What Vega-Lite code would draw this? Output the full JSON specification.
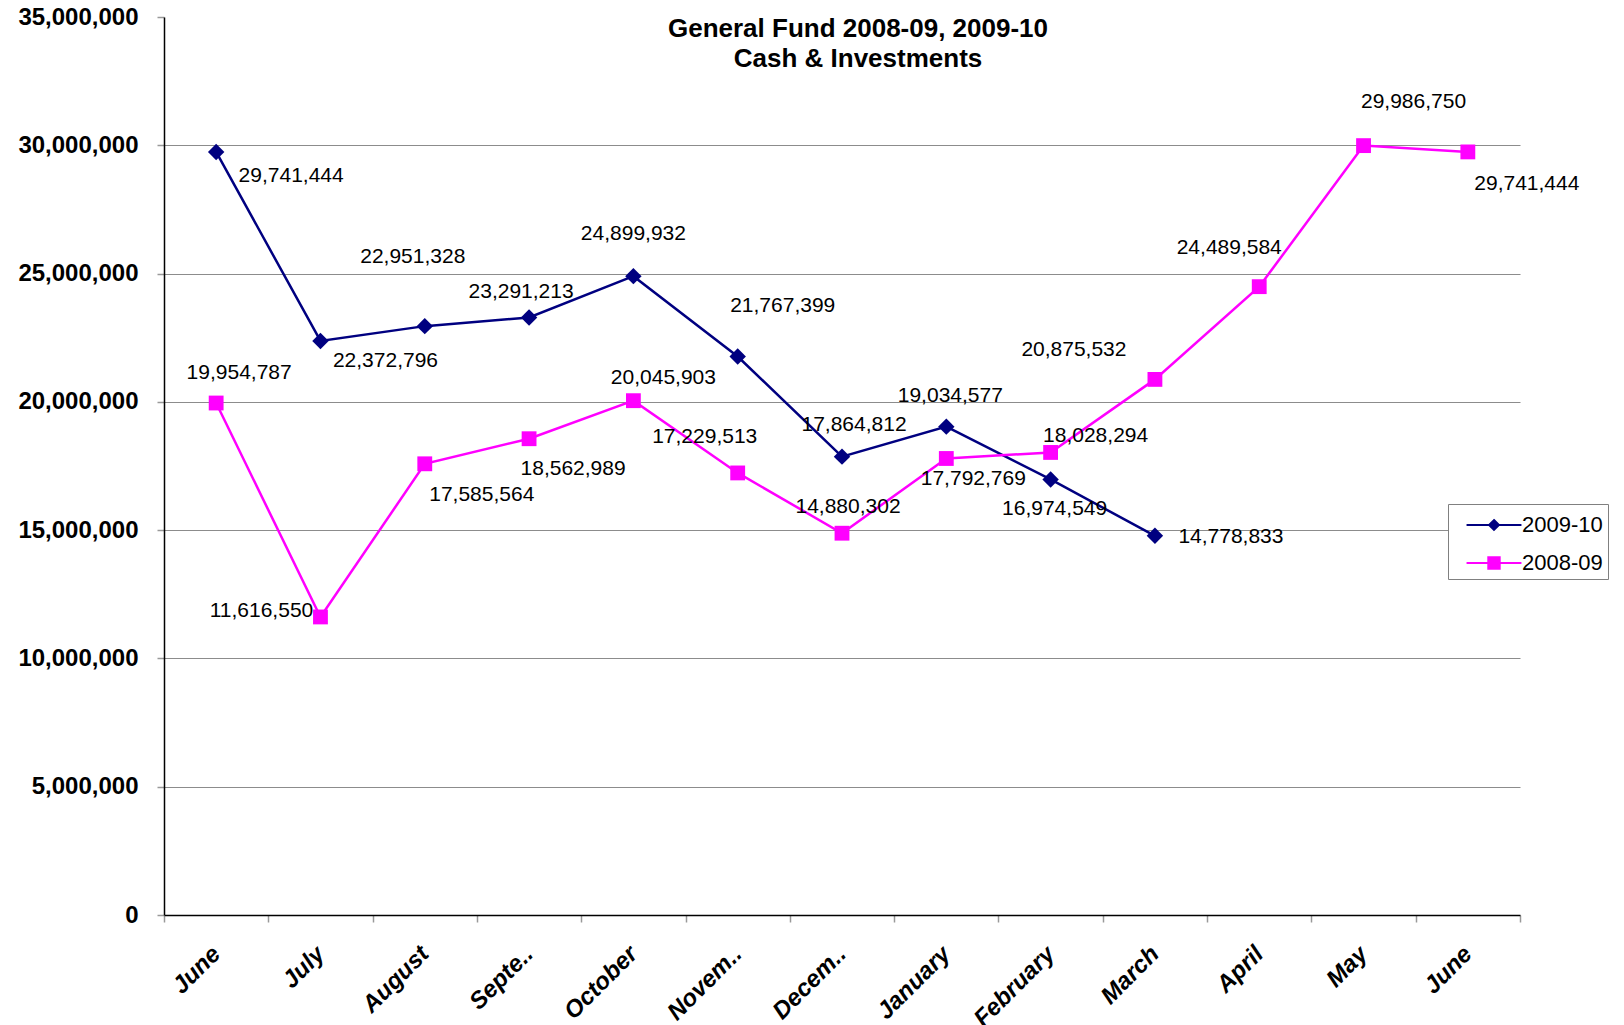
{
  "$schema": "https://vega.github.io/schema/vega-lite/v6.json",
  "autosize": "none",
  "width": 1356,
  "height": 898,
  "padding": {"left": 164, "top": 17, "right": 104, "bottom": 110},
  "background": "white",
  "title": {
    "text": ["General Fund 2008-09, 2009-10", "Cash & Investments"],
    "font": "Liberation Sans",
    "fontSize": 26,
    "fontWeight": "bold",
    "color": "black",
    "lineHeight": 30,
    "anchor": "middle",
    "frame": "group",
    "baseline": "top",
    "dx": 16,
    "dy": 17,
    "offset": -50
  },
  "config": {
    "view": {"stroke": null},
    "font": "Liberation Sans",
    "text": {"font": "Liberation Sans", "fontSize": 21, "color": "black"}
  },
  "data": {
    "values": [
      {"series": "2009-10", "month": "June (prior)", "value": 29741444},
      {"series": "2009-10", "month": "July", "value": 22372796},
      {"series": "2009-10", "month": "August", "value": 22951328},
      {"series": "2009-10", "month": "September", "value": 23291213},
      {"series": "2009-10", "month": "October", "value": 24899932},
      {"series": "2009-10", "month": "November", "value": 21767399},
      {"series": "2009-10", "month": "December", "value": 17864812},
      {"series": "2009-10", "month": "January", "value": 19034577},
      {"series": "2009-10", "month": "February", "value": 16974549},
      {"series": "2009-10", "month": "March", "value": 14778833},
      {"series": "2008-09", "month": "June (prior)", "value": 19954787},
      {"series": "2008-09", "month": "July", "value": 11616550},
      {"series": "2008-09", "month": "August", "value": 17585564},
      {"series": "2008-09", "month": "September", "value": 18562989},
      {"series": "2008-09", "month": "October", "value": 20045903},
      {"series": "2008-09", "month": "November", "value": 17229513},
      {"series": "2008-09", "month": "December", "value": 14880302},
      {"series": "2008-09", "month": "January", "value": 17792769},
      {"series": "2008-09", "month": "February", "value": 18028294},
      {"series": "2008-09", "month": "March", "value": 20875532},
      {"series": "2008-09", "month": "April", "value": 24489584},
      {"series": "2008-09", "month": "May", "value": 29986750},
      {"series": "2008-09", "month": "June", "value": 29741444}
    ]
  },
  "encoding": {
    "x": {
      "field": "month",
      "type": "nominal",
      "sort": ["June (prior)", "July", "August", "September", "October", "November", "December", "January", "February", "March", "April", "May", "June"],
      "scale": {"type": "band", "paddingInner": 0, "paddingOuter": 0},
      "axis": {
        "title": null,
        "labelAngle": -45,
        "labelAlign": "right",
        "labelBaseline": "middle",
        "labelExpr": "!isString(datum.value) ? '' : datum.value=='September' ? 'Septe..' : datum.value=='November' ? 'Novem..' : datum.value=='December' ? 'Decem..' : split(datum.value,' ')[0]",
        "labelFont": "Liberation Sans",
        "labelFontSize": 24,
        "labelFontWeight": "bold",
        "labelFontStyle": "italic",
        "labelColor": "black",
        "labelPadding": 28,
        "tickBand": "extent",
        "tickColor": "#999999",
        "tickSize": 7,
        "tickWidth": 1.5,
        "domainColor": "black",
        "domainWidth": 1.5,
        "grid": false
      }
    },
    "y": {
      "field": "value",
      "type": "quantitative",
      "scale": {"domain": [0, 35000000], "nice": false},
      "axis": {
        "title": null,
        "values": [0, 5000000, 10000000, 15000000, 20000000, 25000000, 30000000, 35000000],
        "format": ",d",
        "labelFont": "Liberation Sans",
        "labelFontSize": 24,
        "labelFontWeight": "bold",
        "labelColor": "black",
        "labelPadding": 19,
        "tickColor": "#999999",
        "tickSize": 7,
        "tickWidth": 1.5,
        "domainColor": "black",
        "domainWidth": 1.5,
        "grid": true,
        "gridColor": "#8c8c8c",
        "gridWidth": 1.2,
        "gridOpacity": {"condition": {"test": "datum.value >= 35000000 || datum.value == 0", "value": 0}, "value": 1}
      }
    }
  },
  "layer": [
    {
      "mark": {"type": "line", "strokeWidth": 2.5},
      "encoding": {
        "color": {
          "field": "series",
          "type": "nominal",
          "scale": {"domain": ["2009-10", "2008-09"], "range": ["#000080", "#FF00FF"]},
          "legend": {
            "title": null,
            "orient": "none",
            "legendX": 1284,
            "legendY": 487,
            "fillColor": "white",
            "strokeColor": "#808080",
            "padding": 5,
            "labelFont": "Liberation Sans",
            "labelFontSize": 22,
            "labelColor": "black",
            "labelOffset": 12,
            "symbolSize": 900,
            "symbolOffset": 25,
            "symbolStrokeWidth": 2,
            "rowPadding": 11,
            "encoding": {
              "symbols": {
                "shape": {"condition": {"test": "datum.value == '2009-10'", "value": "M-1.83,0H1.83M0,-0.33L0.33,0L0,0.33L-0.33,0Z"}, "value": "M-1.83,0H1.83M-0.38,-0.38H0.38V0.38H-0.38Z"},
                "fill": {"condition": {"test": "datum.value == '2009-10'", "value": "#000080"}, "value": "#FF00FF"},
                "stroke": {"condition": {"test": "datum.value == '2009-10'", "value": "#000080"}, "value": "#FF00FF"},
                "strokeWidth": {"value": 2},
                "opacity": {"value": 1},
                "fillOpacity": {"value": 1}
              }
            }
          }
        }
      }
    },
    {
      "transform": [{"filter": "datum.series == '2009-10'"}],
      "mark": {"type": "point", "shape": "diamond", "filled": true, "size": 270, "opacity": 1},
      "encoding": {"color": {"field": "series", "type": "nominal"}}
    },
    {
      "transform": [{"filter": "datum.series == '2008-09'"}],
      "mark": {"type": "point", "shape": "square", "filled": true, "size": 220, "opacity": 1},
      "encoding": {"color": {"field": "series", "type": "nominal"}}
    },
    {"transform": [{"filter": "datum.series=='2009-10' && datum.month=='June (prior)'"}], "mark": {"type": "text", "dx": 75, "dy": 24}, "encoding": {"text": {"field": "value", "format": ","}}},
    {"transform": [{"filter": "datum.series=='2009-10' && datum.month=='July'"}], "mark": {"type": "text", "dx": 65, "dy": 20}, "encoding": {"text": {"field": "value", "format": ","}}},
    {"transform": [{"filter": "datum.series=='2009-10' && datum.month=='August'"}], "mark": {"type": "text", "dx": -12, "dy": -69}, "encoding": {"text": {"field": "value", "format": ","}}},
    {"transform": [{"filter": "datum.series=='2009-10' && datum.month=='September'"}], "mark": {"type": "text", "dx": -8, "dy": -25}, "encoding": {"text": {"field": "value", "format": ","}}},
    {"transform": [{"filter": "datum.series=='2009-10' && datum.month=='October'"}], "mark": {"type": "text", "dx": 0, "dy": -42}, "encoding": {"text": {"field": "value", "format": ","}}},
    {"transform": [{"filter": "datum.series=='2009-10' && datum.month=='November'"}], "mark": {"type": "text", "dx": 45, "dy": -51}, "encoding": {"text": {"field": "value", "format": ","}}},
    {"transform": [{"filter": "datum.series=='2009-10' && datum.month=='December'"}], "mark": {"type": "text", "dx": 12, "dy": -32}, "encoding": {"text": {"field": "value", "format": ","}}},
    {"transform": [{"filter": "datum.series=='2009-10' && datum.month=='January'"}], "mark": {"type": "text", "dx": 4, "dy": -31}, "encoding": {"text": {"field": "value", "format": ","}}},
    {"transform": [{"filter": "datum.series=='2009-10' && datum.month=='February'"}], "mark": {"type": "text", "dx": 4, "dy": 30}, "encoding": {"text": {"field": "value", "format": ","}}},
    {"transform": [{"filter": "datum.series=='2009-10' && datum.month=='March'"}], "mark": {"type": "text", "dx": 76, "dy": 1}, "encoding": {"text": {"field": "value", "format": ","}}},
    {"transform": [{"filter": "datum.series=='2008-09' && datum.month=='June (prior)'"}], "mark": {"type": "text", "dx": 23, "dy": -30}, "encoding": {"text": {"field": "value", "format": ","}}},
    {"transform": [{"filter": "datum.series=='2008-09' && datum.month=='July'"}], "mark": {"type": "text", "dx": -59, "dy": -6}, "encoding": {"text": {"field": "value", "format": ","}}},
    {"transform": [{"filter": "datum.series=='2008-09' && datum.month=='August'"}], "mark": {"type": "text", "dx": 57, "dy": 31}, "encoding": {"text": {"field": "value", "format": ","}}},
    {"transform": [{"filter": "datum.series=='2008-09' && datum.month=='September'"}], "mark": {"type": "text", "dx": 44, "dy": 30}, "encoding": {"text": {"field": "value", "format": ","}}},
    {"transform": [{"filter": "datum.series=='2008-09' && datum.month=='October'"}], "mark": {"type": "text", "dx": 30, "dy": -23}, "encoding": {"text": {"field": "value", "format": ","}}},
    {"transform": [{"filter": "datum.series=='2008-09' && datum.month=='November'"}], "mark": {"type": "text", "dx": -33, "dy": -36}, "encoding": {"text": {"field": "value", "format": ","}}},
    {"transform": [{"filter": "datum.series=='2008-09' && datum.month=='December'"}], "mark": {"type": "text", "dx": 6, "dy": -26}, "encoding": {"text": {"field": "value", "format": ","}}},
    {"transform": [{"filter": "datum.series=='2008-09' && datum.month=='January'"}], "mark": {"type": "text", "dx": 27, "dy": 21}, "encoding": {"text": {"field": "value", "format": ","}}},
    {"transform": [{"filter": "datum.series=='2008-09' && datum.month=='February'"}], "mark": {"type": "text", "dx": 45, "dy": -16}, "encoding": {"text": {"field": "value", "format": ","}}},
    {"transform": [{"filter": "datum.series=='2008-09' && datum.month=='March'"}], "mark": {"type": "text", "dx": -81, "dy": -29}, "encoding": {"text": {"field": "value", "format": ","}}},
    {"transform": [{"filter": "datum.series=='2008-09' && datum.month=='April'"}], "mark": {"type": "text", "dx": -30, "dy": -39}, "encoding": {"text": {"field": "value", "format": ","}}},
    {"transform": [{"filter": "datum.series=='2008-09' && datum.month=='May'"}], "mark": {"type": "text", "dx": 50, "dy": -44}, "encoding": {"text": {"field": "value", "format": ","}}},
    {"transform": [{"filter": "datum.series=='2008-09' && datum.month=='June'"}], "mark": {"type": "text", "dx": 59, "dy": 32}, "encoding": {"text": {"field": "value", "format": ","}}}
  ]
}
